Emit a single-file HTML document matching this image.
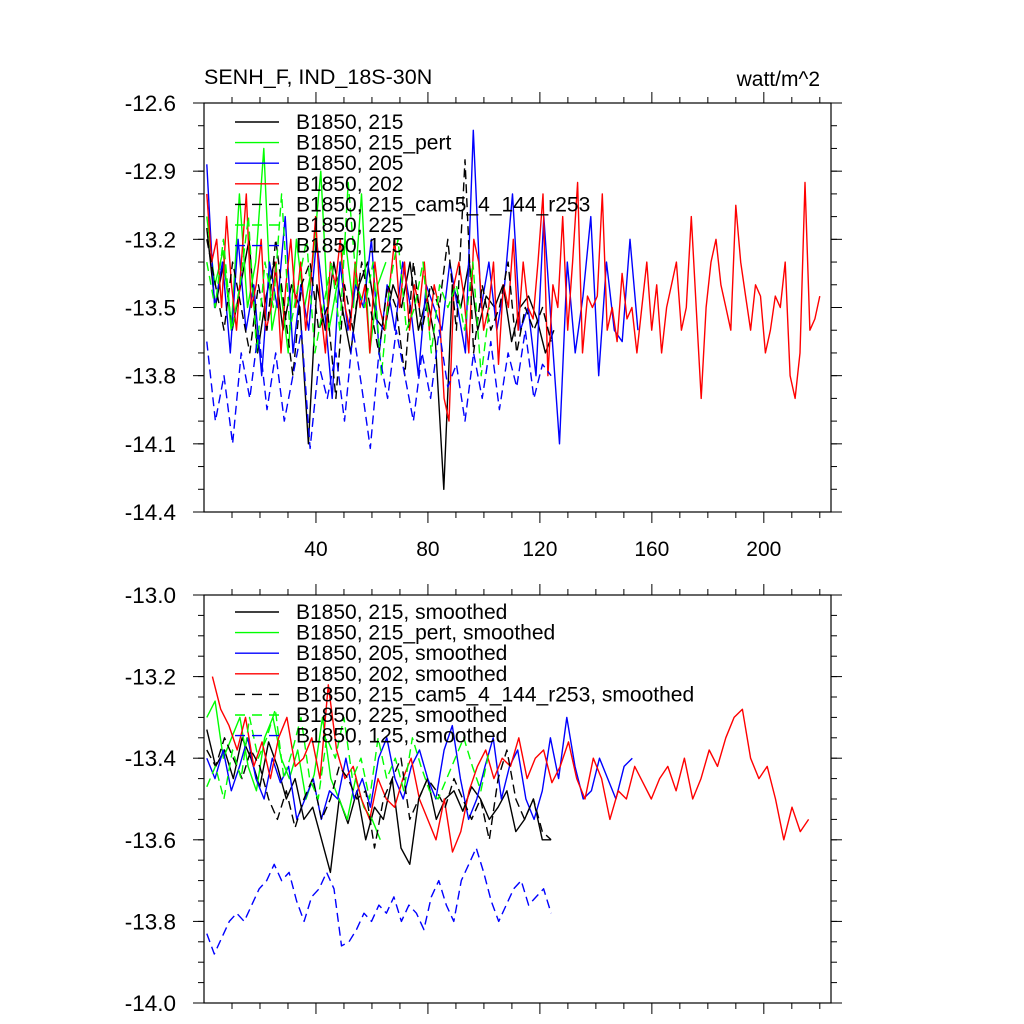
<!DOCTYPE html>
<html><head><meta charset="utf-8"><style>
html,body{margin:0;padding:0;background:#fff}
svg{display:block;font-family:"Liberation Sans",sans-serif}
</style></head><body>
<svg id="chart" width="1024" height="1024" viewBox="0 0 1024 1024" xmlns="http://www.w3.org/2000/svg">
<text x="204" y="84" font-size="21.5">SENH_F, IND_18S-30N</text>
<text x="820" y="86" font-size="21" text-anchor="end">watt/m^2</text>
<g id="top"></g>
<g id="bot"></g>
</svg>
<script>
// ---- data ----
const xTickLabels = [40, 80, 120, 160, 200];
const topYTicks = [-12.6, -12.9, -13.2, -13.5, -13.8, -14.1, -14.4];
const botYTicks = [-13.0, -13.2, -13.4, -13.6, -13.8, -14.0];
const seriesNames = ["B1850, 215", "B1850, 215_pert", "B1850, 205", "B1850, 202", "B1850, 215_cam5_4_144_r253", "B1850, 225", "B1850, 125"];
const seriesXStart = [1, 1, 1, 1, 1, 1, 1];
const seriesXEnd = [125, 65, 155, 220, 124, 102, 124];
const botXStart = [1, 1, 1, 3, 1, 1, 1];
const botXEnd = [124, 63, 153, 216, 124, 102, 124];

const topBlack = [-13.15,-13.5,-13.3,-13.6,-13.4,-13.2,-13.7,-13.45,-13.3,-13.6,-13.4,-13.5,-14.1,-13.4,-13.6,-13.3,-13.5,-13.7,-13.4,-13.3,-13.55,-13.6,-13.4,-13.5,-13.3,-13.6,-13.45,-13.65,-14.3,-13.4,-13.5,-13.3,-13.6,-13.45,-13.5,-13.4,-13.65,-13.5,-13.45,-13.55,-13.7,-13.6];
const topGreen = [-13.1,-13.4,-13.25,-13.6,-13.0,-13.5,-13.3,-12.8,-13.6,-13.4,-13.7,-13.2,-13.5,-13.3,-12.9,-13.6,-13.4,-13.2,-13.5,-13.0,-13.7,-13.4,-13.3];
const topBlue = [-12.87,-13.5,-13.3,-13.7,-13.2,-13.6,-13.4,-13.8,-13.3,-13.5,-13.1,-13.7,-13.4,-13.6,-13.2,-13.5,-13.9,-13.3,-13.6,-13.4,-13.5,-13.2,-13.7,-13.4,-13.6,-13.3,-13.5,-13.8,-13.4,-13.5,-13.6,-13.3,-13.5,-13.7,-12.72,-13.5,-13.3,-13.6,-13.4,-13.0,-13.6,-13.5,-13.8,-13.1,-13.6,-14.1,-13.3,-13.7,-13.45,-13.1,-13.8,-13.3,-13.6,-13.65,-13.2,-13.6];
const topRed = [-13.0,-13.3,-13.2,-13.5,-13.1,-13.4,-13.6,-13.3,-13.0,-13.5,-13.4,-13.2,-13.6,-13.5,-13.3,-13.7,-13.4,-13.2,-13.5,-13.3,-13.6,-13.4,-13.1,-13.5,-13.7,-13.3,-13.4,-13.2,-13.5,-13.6,-13.3,-13.5,-13.4,-13.7,-13.3,-13.5,-13.6,-13.4,-13.2,-13.5,-13.3,-13.6,-13.4,-13.5,-13.3,-13.6,-13.4,-13.5,-13.9,-14.0,
 -13.4,-13.3,-13.45,-13.7,-13.2,-13.3,-13.6,-13.5,-13.3,-13.75,-13.4,-13.5,-13.2,-13.6,-13.3,-13.5,-13.55,-13.3,-13.0,-13.8,-13.4,-13.5,-13.1,-13.6,-13.3,-12.95,-13.7,-13.45,-13.5,-13.45,-13.0,-13.6,-13.5,-13.65,-13.35,-13.55,-13.5,-13.7,-13.5,-13.3,-13.6,-13.4,-13.7,-13.5,-13.4,-13.3,-13.6,-13.5,-13.1,-13.5,-13.9,-13.5,-13.3,-13.2,-13.4,-13.5,-13.6,-13.05,-13.3,-13.45,-13.6,-13.4,-13.45,-13.7,-13.6,-13.45,-13.5,-13.3,-13.8,-13.9,-13.7,-12.95,-13.6,-13.55,-13.45];
const topBlackDash = [-13.2,-13.4,-13.6,-13.3,-13.5,-13.7,-13.4,-13.6,-13.2,-13.5,-13.8,-13.4,-13.3,-13.6,-13.5,-13.9,-13.4,-13.6,-13.3,-13.5,-13.7,-13.4,-13.5,-13.8,-13.3,-13.6,-13.4,-13.5,-13.2,-13.6,-12.85,-13.7,-13.4,-13.6,-13.5,-13.3,-13.7,-13.5,-13.6,-13.5,-13.65];
const topGreenDash = [-13.3,-13.5,-13.2,-13.6,-13.4,-13.1,-13.7,-13.3,-13.5,-13.0,-13.6,-13.4,-13.2,-13.7,-13.5,-13.3,-13.6,-12.95,-13.4,-13.5,-13.3,-13.8,-13.4,-13.2,-13.6,-13.5,-13.3,-13.7,-13.4,-13.5,-13.4,-13.6,-13.3,-13.8,-13.5];
const topBlueDash = [-13.65,-14.0,-13.8,-14.1,-13.7,-13.9,-13.6,-13.95,-13.7,-14.0,-13.8,-13.6,-14.12,-13.75,-13.9,-13.7,-14.0,-13.6,-13.85,-14.12,-13.7,-13.9,-13.6,-13.8,-14.0,-13.7,-13.9,-13.6,-13.85,-13.75,-14.0,-13.7,-13.9,-13.65,-13.95,-13.7,-13.85,-13.6,-13.9,-13.75,-13.8];

const botBlack = [-13.33,-13.42,-13.38,-13.45,-13.35,-13.4,-13.47,-13.36,-13.42,-13.5,-13.45,-13.55,-13.52,-13.6,-13.68,-13.5,-13.56,-13.48,-13.6,-13.52,-13.55,-13.45,-13.62,-13.66,-13.5,-13.45,-13.55,-13.5,-13.48,-13.53,-13.47,-13.5,-13.55,-13.52,-13.48,-13.58,-13.55,-13.5,-13.6,-13.6];
const botGreen = [-13.3,-13.26,-13.4,-13.35,-13.3,-13.42,-13.48,-13.35,-13.3,-13.4,-13.45,-13.38,-13.5,-13.44,-13.3,-13.45,-13.5,-13.55,-13.45,-13.52,-13.55,-13.6];
const botBlue = [-13.4,-13.45,-13.38,-13.48,-13.42,-13.35,-13.45,-13.5,-13.4,-13.46,-13.42,-13.55,-13.5,-13.45,-13.55,-13.48,-13.5,-13.4,-13.5,-13.45,-13.52,-13.4,-13.35,-13.45,-13.5,-13.42,-13.38,-13.45,-13.5,-13.38,-13.32,-13.45,-13.55,-13.5,-13.42,-13.35,-13.5,-13.42,-13.38,-13.5,-13.55,-13.48,-13.35,-13.45,-13.3,-13.42,-13.5,-13.48,-13.4,-13.45,-13.5,-13.42,-13.4];
const botRed = [-13.2,-13.28,-13.32,-13.38,-13.3,-13.42,-13.36,-13.45,-13.35,-13.3,-13.42,-13.4,-13.35,-13.45,-13.22,-13.38,-13.45,-13.42,-13.5,-13.55,-13.45,-13.5,-13.52,-13.45,-13.4,-13.5,-13.55,-13.6,-13.5,-13.63,-13.58,-13.48,-13.42,-13.38,-13.45,-13.4,-13.42,-13.35,-13.45,-13.4,-13.38,-13.46,-13.42,-13.36,-13.45,-13.5,-13.4,-13.45,-13.55,-13.48,-13.5,-13.42,-13.46,-13.5,-13.45,-13.42,-13.48,-13.4,-13.5,-13.45,-13.38,-13.42,-13.35,-13.3,-13.28,-13.4,-13.45,-13.42,-13.5,-13.6,-13.52,-13.58,-13.55];
const botBlackDash = [-13.38,-13.42,-13.35,-13.4,-13.45,-13.38,-13.42,-13.5,-13.55,-13.48,-13.57,-13.5,-13.45,-13.55,-13.5,-13.42,-13.45,-13.5,-13.48,-13.62,-13.5,-13.45,-13.4,-13.55,-13.5,-13.45,-13.48,-13.52,-13.45,-13.5,-13.55,-13.5,-13.6,-13.45,-13.38,-13.5,-13.55,-13.5,-13.58,-13.6];
const botGreenDash = [-13.47,-13.42,-13.5,-13.38,-13.45,-13.3,-13.4,-13.35,-13.28,-13.45,-13.38,-13.3,-13.45,-13.5,-13.35,-13.4,-13.3,-13.45,-13.4,-13.5,-13.35,-13.45,-13.4,-13.48,-13.35,-13.42,-13.48,-13.5,-13.45,-13.4,-13.35,-13.42,-13.48,-13.38];
const botBlueDash = [-13.83,-13.88,-13.84,-13.8,-13.78,-13.8,-13.76,-13.72,-13.7,-13.66,-13.7,-13.68,-13.75,-13.8,-13.74,-13.72,-13.68,-13.72,-13.86,-13.85,-13.82,-13.78,-13.8,-13.76,-13.78,-13.74,-13.8,-13.76,-13.78,-13.82,-13.74,-13.7,-13.76,-13.8,-13.7,-13.66,-13.62,-13.68,-13.75,-13.8,-13.76,-13.72,-13.7,-13.76,-13.74,-13.72,-13.78];

// ---- rendering ----
const NS = "http://www.w3.org/2000/svg";
const colors = ["#000", "#00ff00", "#0000ff", "#ff0000", "#000", "#00ff00", "#0000ff"];
const dashes = [null, null, null, null, "9,5", "9,5", "9,5"];
const L = 204, R = 831, XMIN = 0, XMAX = 224;
function xs(v){ return L + (v - XMIN) / (XMAX - XMIN) * (R - L); }
function mk(tag, attrs, parent){ const e = document.createElementNS(NS, tag); for (const k in attrs) e.setAttribute(k, attrs[k]); parent.appendChild(e); return e; }

function panel(g, T, B, ymax, ymin, yTicks, minorStep, showX, data, xStart, xEnd, suffix, legTop, prefix){
  const ys = v => T + (ymax - v) / (ymax - ymin) * (B - T);
  data.forEach((arr, si) => {
    const n = arr.length;
    const pts = arr.map((v, i) => xs(xStart[si] + i * (xEnd[si] - xStart[si]) / (n - 1)).toFixed(1) + "," + ys(v).toFixed(1)).join(" ");
    const p = mk("polyline", {points: pts, fill: "none", stroke: colors[si], "stroke-width": 1.4, "stroke-linejoin": "round"}, g);
    if (dashes[si]) p.setAttribute("stroke-dasharray", dashes[si]);
    
    
  });
  const fr = mk("rect", {x: L, y: T, width: R - L, height: B - T, fill: "none", stroke: "#000", "stroke-width": 1.2}, g);
  
  
  for (let v = 10; v < XMAX; v += 10) {
    const major = v % 40 === 0;
    const len = major ? 11 : 6;
    const x = xs(v);
    mk("line", {x1: x, x2: x, y1: B, y2: B + len, stroke: "#000", "stroke-width": 1}, g);
    mk("line", {x1: x, x2: x, y1: T, y2: T - len, stroke: "#000", "stroke-width": 1}, g);
  }
  if (showX) xTickLabels.forEach(v => {
    const t = mk("text", {x: xs(v), y: B + 44, "font-size": 21, "text-anchor": "middle"}, g);
    t.textContent = v;
    
    
  });
  const nMinor = Math.round((ymax - ymin) / minorStep);
  for (let i = 1; i < nMinor; i++) {
    const y = ys(ymax - i * minorStep);
    mk("line", {x1: L, x2: L - 6, y1: y, y2: y, stroke: "#000", "stroke-width": 1}, g);
    mk("line", {x1: R, x2: R + 6, y1: y, y2: y, stroke: "#000", "stroke-width": 1}, g);
  }
  yTicks.forEach(v => {
    const y = ys(v);
    mk("line", {x1: L, x2: L - 11, y1: y, y2: y, stroke: "#000", "stroke-width": 1}, g);
    mk("line", {x1: R, x2: R + 11, y1: y, y2: y, stroke: "#000", "stroke-width": 1}, g);
    const t = mk("text", {x: 176, y: y + 8, "font-size": 22.5, "text-anchor": "end"}, g);
    t.textContent = v.toFixed(1);
    
    
  });
  seriesNames.forEach((nm, i) => {
    const y = legTop + i * 20.6;
    const ln = mk("line", {x1: 235, x2: 279, y1: y, y2: y, stroke: colors[i], "stroke-width": 1.4}, g);
    if (dashes[i]) ln.setAttribute("stroke-dasharray", "10,7");
    
    
    const t = mk("text", {x: 296, y: y + 7, "font-size": 21}, g);
    t.textContent = nm + suffix;
    
    
  });
}
panel(document.getElementById("top"), 103, 512, -12.6, -14.4, topYTicks, 0.1, true,
  [topBlack, topGreen, topBlue, topRed, topBlackDash, topGreenDash, topBlueDash], seriesXStart, seriesXEnd, "", 122, "top");
panel(document.getElementById("bot"), 595, 1003, -13.0, -14.0, botYTicks, 0.05, false,
  [botBlack, botGreen, botBlue, botRed, botBlackDash, botGreenDash, botBlueDash], botXStart, botXEnd, ", smoothed", 612, "bottom");
</script>
</body></html>
